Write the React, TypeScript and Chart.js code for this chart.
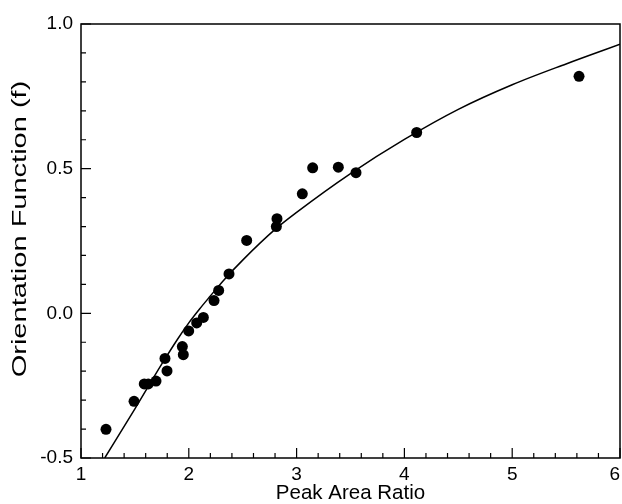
import { useEffect, useRef } from "react";
import { Chart, registerables } from "chart.js";

Chart.register(...registerables);

// Measured points
const peakAreaRatio = [
  1.232, 1.492, 1.587, 1.624, 1.696, 1.779, 1.798, 1.94, 1.949, 1.999, 2.073, 2.135,
  2.234, 2.277, 2.373, 2.537, 2.818, 2.812, 3.053, 3.149, 3.387, 3.551, 4.114, 5.62,
];
const orientationF = [
  -0.401, -0.304, -0.244, -0.244, -0.234, -0.156, -0.199, -0.115, -0.143, -0.061, -0.033, -0.014,
  0.044, 0.079, 0.136, 0.252, 0.327, 0.3, 0.413, 0.503, 0.505, 0.486, 0.625, 0.819,
];

// Fitted curve
const curveRatio = [1.22, 1.5, 1.75, 1.9, 2.0, 2.1, 2.2, 2.32, 2.5, 2.8, 3.0, 3.5, 4.0, 4.5, 5.0, 5.5, 6.0];
const curveF = [-0.5, -0.33, -0.175, -0.087, -0.033, 0.015, 0.06, 0.113, 0.184, 0.29, 0.349, 0.483, 0.601, 0.705, 0.79, 0.862, 0.93];

// Tick labels and titles
const xTickLabels = ["1", "2", "3", "4", "5", "6"];
const yTickLabels = ["-0.5", "0.0", "0.5", "1.0"];
const xTitle = "Peak Area Ratio";
const yTitle = "Orientation Function (f)";

const FONT = "'Liberation Sans', Arial, Helvetica, sans-serif";

const isMultiple = (v: number, step: number) => Math.abs(v / step - Math.round(v / step)) < 1e-6;

const frameTicks = {
  id: "frameTicks",
  afterDraw(chart: any) {
    const { ctx, chartArea, scales } = chart;
    const { left, right, top, bottom } = chartArea;
    ctx.save();
    ctx.strokeStyle = "#000";
    ctx.lineWidth = 1.5;
    ctx.strokeRect(left, top, right - left, bottom - top);
    ctx.lineWidth = 1.2;
    ctx.beginPath();
    scales.x.ticks.forEach((t: any) => {
      const px = scales.x.getPixelForValue(t.value);
      const len = isMultiple(t.value, 1) ? 10 : 5;
      ctx.moveTo(px, bottom);
      ctx.lineTo(px, bottom - len);
    });
    scales.y.ticks.forEach((t: any) => {
      const py = scales.y.getPixelForValue(t.value);
      const len = isMultiple(t.value, 0.5) ? 10 : 5;
      ctx.moveTo(left, py);
      ctx.lineTo(left + len, py);
    });
    ctx.stroke();

    // vertical axis title (drawn elongated like the original)
    const cy = (top + bottom) / 2 - 12;
    ctx.translate(20, cy);
    ctx.rotate(-Math.PI / 2);
    ctx.scale(1.45, 1);
    ctx.font = `20px ${FONT}`;
    ctx.fillStyle = "#000";
    ctx.textAlign = "center";
    ctx.textBaseline = "middle";
    ctx.fillText(yTitle, 0, 0);
    ctx.restore();
  },
};

export default function App() {
  const ref = useRef<HTMLCanvasElement | null>(null);

  useEffect(() => {
    if (!ref.current) return;
    const chart = new Chart(ref.current, {
      type: "scatter",
      data: {
        datasets: [
          {
            label: "fit",
            data: curveRatio.map((x, i) => ({ x, y: curveF[i] })),
            showLine: true,
            borderColor: "#000",
            borderWidth: 1.5,
            pointRadius: 0,
            cubicInterpolationMode: "monotone",
            fill: false,
          } as any,
          {
            label: "data",
            data: peakAreaRatio.map((x, i) => ({ x, y: orientationF[i] })),
            backgroundColor: "#000",
            borderWidth: 0,
            pointRadius: 5.5,
          },
        ],
      },
      options: {
        responsive: false,
        animation: false,
        layout: { autoPadding: false, padding: { top: 24, right: 2, left: 0, bottom: 0 } },
        plugins: { legend: { display: false }, tooltip: { enabled: false } },
        scales: {
          x: {
            type: "linear",
            min: 1,
            max: 6,
            grid: { display: false, drawTicks: false },
            border: { display: false },
            ticks: {
              stepSize: 0.2,
              autoSkip: false,
              maxRotation: 0,
              minRotation: 0,
              padding: 5,
              color: "#000",
              font: { family: FONT, size: 19 },
              callback: (v: any) => {
                const n = Number(v);
                if (!isMultiple(n, 1)) return "";
                const i = Math.round(n) - 1;
                const label = xTickLabels[i] ?? "";
                // last label sits just inside the frame, as in the original
                return i === xTickLabels.length - 1 ? label + "  " : label;
              },
            },
            title: {
              display: true,
              text: xTitle,
              color: "#000",
              font: { family: FONT, size: 20.5, lineHeight: 1 },
              padding: { top: 0, bottom: 0 },
            },
            afterFit: (s: any) => {
              s.height = 46;
              s.paddingLeft = 0;
              s.paddingRight = 0;
            },
          },
          y: {
            type: "linear",
            min: -0.5,
            max: 1.0,
            grid: { display: false, drawTicks: false },
            border: { display: false },
            ticks: {
              stepSize: 0.1,
              autoSkip: false,
              padding: 8,
              color: "#000",
              font: { family: FONT, size: 19 },
              callback: (v: any) => {
                const n = Number(v);
                if (!isMultiple(n, 0.5)) return "";
                return yTickLabels[Math.round((n + 0.5) / 0.5)] ?? "";
              },
            },
            title: { display: false },
            afterFit: (s: any) => {
              s.width = 81;
              s.paddingTop = 0;
              s.paddingBottom = 0;
            },
          },
        },
      },
      plugins: [frameTicks],
    });
    return () => chart.destroy();
  }, []);

  return (
    <div style={{ position: "fixed", left: 0, top: 0, width: 622, height: 504, background: "#fff", overflow: "hidden" }}>
      <canvas ref={ref} width={622} height={504} style={{ display: "block" }} />
    </div>
  );
}
